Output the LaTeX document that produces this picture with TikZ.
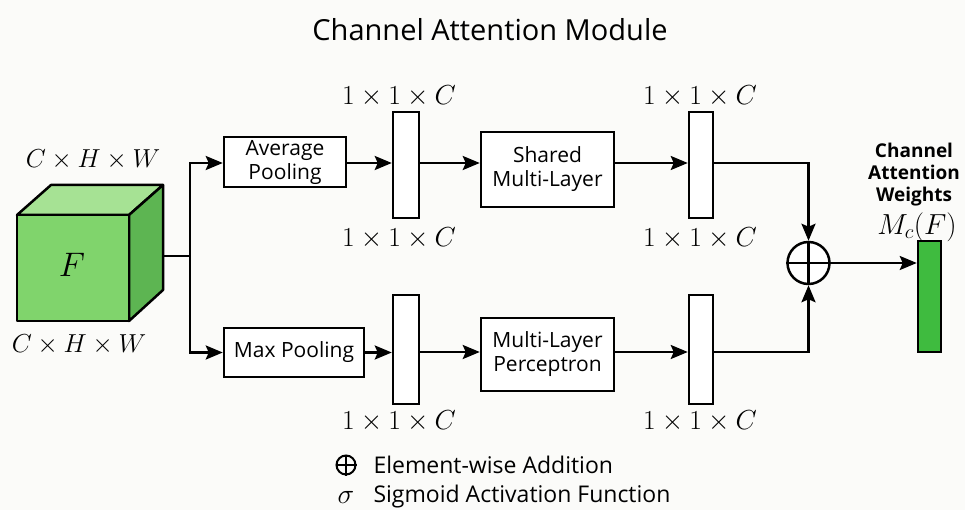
\RequirePackage{fix-cm}
\documentclass[tikz,border=0pt]{standalone}
\usepackage{fontspec}
\setmainfont{Open Sans}
\usetikzlibrary{arrows.meta}
\definecolor{bg}{HTML}{FBFBF9}
\definecolor{cfront}{HTML}{80D46C}
\definecolor{ctop}{HTML}{A6E294}
\definecolor{cside}{HTML}{5DB552}
\definecolor{cbar}{HTML}{3FBB3F}
\tikzset{
  box/.style={draw=black, line width=2.5pt, fill=white, inner sep=0pt, align=center, font=\fontsize{21}{24}\selectfont},
  vec/.style={draw=black, line width=2.5pt, fill=white, inner sep=0pt},
  conn/.style={line width=2.5pt, -{Stealth[length=17pt,width=14pt,inset=3pt]}},
  plain/.style={line width=2.5pt},
  dimlab/.style={font=\fontsize{26}{28}\selectfont, inner sep=0pt},
  veclab/.style={font=\fontsize{27.5}{28}\selectfont, inner sep=0pt},
}
\begin{document}
\begin{tikzpicture}[x=1pt,y=-1pt]
\fill[bg] (0,0) rectangle (965,510);
\useasboundingbox (0,0) rectangle (965,510);
% title
\node[font=\fontsize{29}{32}\selectfont] (title) at (490,30) {Channel Attention Module};
% cube
\draw[line width=2.5pt, line join=round, fill=ctop] (17,215) -- (51,185) -- (163,185) -- (129,215) -- cycle;
\draw[line width=2.5pt, line join=round, fill=cside] (129,215) -- (163,185) -- (163,290) -- (129,321) -- cycle;
\draw[line width=2.5pt, line join=round, fill=cfront] (17,215) rectangle (129,321);
\node[font=\fontsize{34}{34}\selectfont] (F) at (72,265) {$F$};
\node[dimlab] (dimtop) at (93,160) {$C\times H\times W$};
\node[dimlab] (dimbot) at (79,345) {$C\times H\times W$};
\coordinate (cube) at (163,256);
\coordinate (split) at (190,256);
% boxes
\node[box, minimum width=122pt, minimum height=50pt] (avg) at (285,162) {Average\\Pooling};
\node[box, minimum width=140pt, minimum height=49pt] (max) at (294,352.5) {Max Pooling};
\node[box, minimum width=133pt, minimum height=75pt] (shared) at (547.5,169.5) {Shared\\Multi-Layer};
\node[box, minimum width=133pt, minimum height=73pt] (mlp) at (547.5,354.5) {Multi-Layer\\Perceptron};
% vectors
\node[vec, minimum width=26pt, minimum height=106pt] (v1) at (406,165) {};
\node[vec, minimum width=24pt, minimum height=106pt] (v2) at (701,165) {};
\node[vec, minimum width=26pt, minimum height=109pt] (v3) at (406,349.5) {};
\node[vec, minimum width=24pt, minimum height=109pt] (v4) at (701,349.5) {};
\node[veclab] (l1a) at (399,96) {$1\times 1\times C$};
\node[veclab] (l1b) at (399,238) {$1\times 1\times C$};
\node[veclab] (l2a) at (700,96) {$1\times 1\times C$};
\node[veclab] (l2b) at (700,238) {$1\times 1\times C$};
\node[veclab] (l3b) at (399,421) {$1\times 1\times C$};
\node[veclab] (l4b) at (700,421) {$1\times 1\times C$};
% adder
\node[circle, draw=black, line width=2.5pt, minimum size=42pt, inner sep=0pt, fill=white] (add) at (808.5,263) {};
\draw[line width=2.5pt] (add.north) -- (add.south) (add.west) -- (add.east);
% output bar
\node[draw=black, line width=2.5pt, fill=cbar, minimum width=23pt, minimum height=111pt, inner sep=0pt] (out) at (929.5,296.5) {};
\node[font=\bfseries\fontsize{19}{22}\selectfont, align=center] (wl) at (914,175) {Channel\\Attention\\Weights};
\node[font=\fontsize{29}{30}\selectfont, inner sep=0pt] (mc) at (917,227) {$M_{c}(F)$};
% connectors
\draw[plain] (cube) -- (split);
\draw[conn] (split) |- (avg.west |- 0,163);
\draw[conn] (split) |- (max.west);
\draw[conn] (avg.east |- 0,163) -- (v1.west |- 0,163);
\draw[conn] (v1.east |- 0,163) -- (shared.west |- 0,163);
\draw[conn] (shared.east |- 0,163) -- (v2.west |- 0,163);
\draw[conn] (v2.east |- 0,163) -| (add.north);
\draw[conn] (max.east) -- (v3.west |- max.east);
\draw[conn] (v3.east |- 0,352) -- (mlp.west |- 0,352);
\draw[conn] (mlp.east |- 0,352) -- (v4.west |- 0,352);
\draw[conn] (v4.east |- 0,352) -| (add.south);
\draw[conn] (add.east) -- (out.west |- add.east);
% legend
\node[circle, draw=black, line width=2pt, minimum size=19pt, inner sep=0pt] (lgadd) at (346,465) {};
\draw[line width=2pt] (lgadd.north) -- (lgadd.south) (lgadd.west) -- (lgadd.east);
\node[anchor=west, font=\fontsize{23}{26}\selectfont] (lgt1) at (370,465) {Element-wise Addition};
\node[font=\fontsize{28}{28}\selectfont] (lgsig) at (346,497) {$\sigma$};
\node[anchor=west, font=\fontsize{23}{26}\selectfont] (lgt2) at (370,497) {Sigmoid Activation Function};
\end{tikzpicture}
\end{document}
